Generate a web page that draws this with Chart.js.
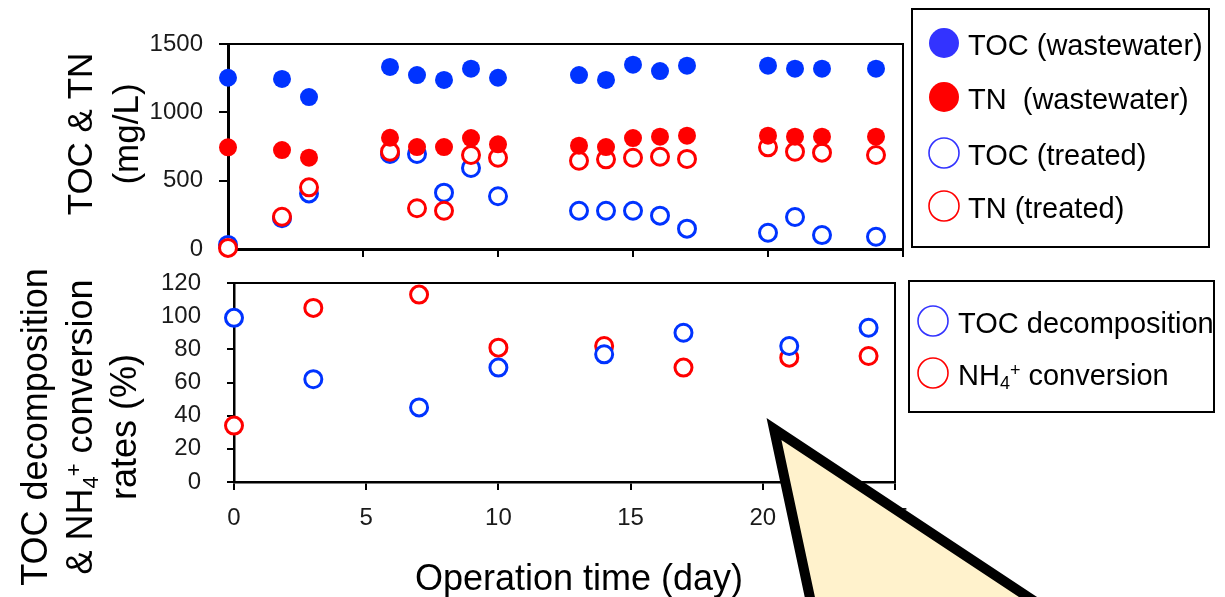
<!DOCTYPE html>
<html lang="en">
<head>
<meta charset="UTF-8">
<title>TOC / TN and conversion rates</title>
<script src="https://cdn.jsdelivr.net/npm/chart.js"></script>
<style>
  body { margin: 0; background: #fff; }
  #wrap { position: relative; width: 1225px; height: 597px; overflow: hidden; }
  #wrap canvas { position: absolute; left: 0; top: 0; }
</style>
</head>
<body>
<div id="wrap">
  <canvas id="topChart" width="1225" height="597"></canvas>
  <canvas id="bottomChart" width="1225" height="597"></canvas>
</div>
<script>
// --- data: top panel (mg/L) ---
const days = [0, 2, 3, 6, 7, 8, 9, 10, 13, 14, 15, 16, 17, 20, 21, 22, 24];
const tocWaste   = [1253, 1244, 1112, 1332, 1273, 1237, 1319, 1253, 1273, 1237, 1349, 1302, 1341, 1341, 1319, 1319, 1319];
const tnWaste    = [744, 724, 668, 814, 746, 746, 812, 766, 756, 746, 812, 822, 829, 829, 822, 822, 822];
const tocTreated = [30, 225, 407, 695, 695, 412, 593, 386, 280, 280, 280, 244, 149, 119, 234, 102, 90];
const tnTreated  = [8, 236, 451, 712, 298, 280, 688, 668, 646, 656, 668, 675, 659, 744, 712, 705, 688];

// --- data: bottom panel (%) ---
const rateDays = [0, 3, 7, 10, 14, 17, 21, 24];
const tocDecomp = [99, 62, 45, 69, 77, 90, 82, 93];
const nh4Conv   = [34, 105, 113, 81, 82, 69, 75, 76];

const FONT = '"Liberation Sans", Arial, sans-serif';
const BLUE = '#0033FF', RED = '#FF0000';
const LEG_BLUE = '#3333FF', LEG_RED = '#FF0000';

function pts(xs, ys) { return xs.map((x, i) => ({ x: x, y: ys[i] })); }

// sub/superscript chars in labels are drawn as small shifted text
const SUB = { '\u2084': '4' }, SUP = { '\u207A': '+' };
function drawRich(ctx, text, x, y, size, align) {
  const runs = [];
  for (const ch of text) {
    let kind = 'n', c = ch;
    if (SUB[ch]) { kind = 'sub'; c = SUB[ch]; }
    else if (SUP[ch]) { kind = 'sup'; c = SUP[ch]; }
    const last = runs[runs.length - 1];
    if (last && last.kind === kind) last.t += c; else runs.push({ kind: kind, t: c });
  }
  const fontFor = k => (k === 'n' ? size : Math.round(size * 0.62)) + 'px ' + FONT;
  let total = 0;
  runs.forEach(r => { ctx.font = fontFor(r.kind); r.w = ctx.measureText(r.t).width; total += r.w; });
  let cx = align === 'center' ? x - total / 2 : x;
  ctx.textAlign = 'left';
  ctx.textBaseline = 'alphabetic';
  runs.forEach(r => {
    ctx.font = fontFor(r.kind);
    const dy = r.kind === 'sub' ? size * 0.17 : (r.kind === 'sup' ? -size * 0.3 : 0);
    ctx.fillText(r.t, cx, y + dy);
    cx += r.w;
  });
}

// top & right border of the plot area
const frame = {
  id: 'frame',
  beforeDatasetsDraw(chart) {
    const a = chart.chartArea, ctx = chart.ctx;
    ctx.save();
    ctx.strokeStyle = '#000';
    ctx.lineWidth = 2;
    ctx.beginPath();
    ctx.moveTo(a.left, a.top);
    ctx.lineTo(a.right, a.top);
    ctx.lineTo(a.right, a.bottom);
    ctx.stroke();
    ctx.restore();
  }
};

function makeTitles(items) {
  return {
    id: 'titles',
    afterDraw(chart) {
      const ctx = chart.ctx;
      ctx.save();
      ctx.fillStyle = '#000';
      items.forEach(it => {
        ctx.save();
        ctx.translate(it.x, it.y);
        if (it.rotate) ctx.rotate(-Math.PI / 2);
        drawRich(ctx, it.text, 0, 0, it.size, 'center');
        ctx.restore();
      });
      ctx.restore();
    }
  };
}

function makeLegend(box) {
  return {
    id: 'boxLegend',
    afterDraw(chart) {
      const ctx = chart.ctx;
      ctx.save();
      ctx.fillStyle = '#fff';
      ctx.fillRect(box.x, box.y, box.w, box.h);
      ctx.strokeStyle = '#000';
      ctx.lineWidth = 2;
      ctx.strokeRect(box.x, box.y, box.w, box.h);
      chart.data.datasets.forEach((ds, i) => {
        const cy = box.rows[i];
        ctx.beginPath();
        ctx.arc(box.markerX, cy, 15, 0, Math.PI * 2);
        if (ds.filled) {
          ctx.fillStyle = ds.legendColor;
          ctx.fill();
        } else {
          ctx.lineWidth = 1.6;
          ctx.strokeStyle = ds.legendColor;
          ctx.stroke();
        }
        ctx.fillStyle = '#000';
        drawRich(ctx, ds.label, box.textX, cy + 11.5, 29, 'left');
      });
      ctx.restore();
    }
  };
}

function makeCallout(poly) {
  return {
    id: 'callout',
    afterDraw(chart) {
      const ctx = chart.ctx;
      ctx.save();
      ctx.beginPath();
      poly.forEach((p, i) => i ? ctx.lineTo(p[0], p[1]) : ctx.moveTo(p[0], p[1]));
      ctx.closePath();
      ctx.fillStyle = '#FFF2CC';
      ctx.fill();
      ctx.lineJoin = 'miter';
      ctx.lineWidth = 10;
      ctx.strokeStyle = '#000';
      ctx.stroke();
      ctx.restore();
    }
  };
}

function tickFont() { return { family: FONT, size: 24 }; }
const plainNum = v => String(v);

// ---------- top panel ----------
new Chart(document.getElementById('topChart'), {
  type: 'scatter',
  data: {
    datasets: [
      { label: 'TOC (wastewater)', data: pts(days, tocWaste), filled: true, legendColor: LEG_BLUE,
        backgroundColor: BLUE, borderColor: BLUE, borderWidth: 0, pointRadius: 9, order: 1 },
      { label: 'TN  (wastewater)', data: pts(days, tnWaste), filled: true, legendColor: LEG_RED,
        backgroundColor: RED, borderColor: RED, borderWidth: 0, pointRadius: 9, order: 2 },
      { label: 'TOC (treated)', data: pts(days, tocTreated), filled: false, legendColor: LEG_BLUE,
        backgroundColor: '#fff', borderColor: BLUE, borderWidth: 3, pointRadius: 8.5, order: 4 },
      { label: 'TN (treated)', data: pts(days, tnTreated), filled: false, legendColor: LEG_RED,
        backgroundColor: '#fff', borderColor: RED, borderWidth: 3, pointRadius: 8.5, order: 3 }
    ].map(d => Object.assign(d, { clip: false }))
  },
  options: {
    responsive: false,
    animation: false,
    events: [],
    layout: { padding: { top: 44, right: 322, bottom: 335, left: 0 } },
    plugins: { legend: { display: false }, tooltip: { enabled: false } },
    scales: {
      x: {
        type: 'linear', min: 0, max: 25,
        ticks: { display: false, stepSize: 5 },
        grid: { drawOnChartArea: false, tickLength: 8, lineWidth: 2, color: '#000' },
        border: { display: true, color: '#000', width: 3 },
        afterFit: s => { s.height = 13; }
      },
      y: {
        min: 0, max: 1500,
        ticks: { stepSize: 500, padding: 16, color: '#1a1a1a', font: tickFont(), callback: plainNum },
        grid: { drawOnChartArea: false, tickLength: 9, lineWidth: 2, color: '#000' },
        border: { display: true, color: '#000', width: 3 },
        afterFit: s => { s.width = 228; }
      }
    }
  },
  plugins: [frame, makeTitles([
    { text: 'TOC & TN', x: 92, y: 134, size: 35, rotate: true },
    { text: '(mg/L)', x: 138, y: 134, size: 35, rotate: true }
  ]), makeLegend({ x: 912, y: 9, w: 297, h: 238, markerX: 944, textX: 968, rows: [43, 97, 153, 206] })]
});

// ---------- bottom panel ----------
new Chart(document.getElementById('bottomChart'), {
  type: 'scatter',
  data: {
    datasets: [
      { label: 'TOC decomposition', data: pts(rateDays, tocDecomp), filled: false, legendColor: LEG_BLUE,
        backgroundColor: '#fff', borderColor: BLUE, borderWidth: 3, pointRadius: 8.5 },
      { label: 'NH\u2084\u207A conversion', data: pts(rateDays, nh4Conv), filled: false, legendColor: LEG_RED,
        backgroundColor: '#fff', borderColor: RED, borderWidth: 3, pointRadius: 8.5 }
    ].map(d => Object.assign(d, { clip: false }))
  },
  options: {
    responsive: false,
    animation: false,
    events: [],
    layout: { padding: { top: 283, right: 330, bottom: 0, left: 0 } },
    plugins: { legend: { display: false }, tooltip: { enabled: false } },
    scales: {
      x: {
        type: 'linear', min: 0, max: 25,
        ticks: { stepSize: 5, padding: 14, color: '#1a1a1a', font: tickFont(), callback: plainNum },
        grid: { drawOnChartArea: false, tickLength: 8, lineWidth: 2, color: '#000' },
        border: { display: true, color: '#000', width: 2.5 },
        afterFit: s => { s.height = 115; }
      },
      y: {
        min: 0, max: 120,
        ticks: { stepSize: 20, padding: 26, color: '#1a1a1a', font: tickFont(), callback: plainNum },
        grid: { drawOnChartArea: false, tickLength: 7, lineWidth: 2, color: '#000' },
        border: { display: true, color: '#000', width: 2.5 },
        afterFit: s => { s.width = 234; }
      }
    }
  },
  plugins: [frame, makeTitles([
    { text: 'TOC decomposition', x: 47, y: 427, size: 36, rotate: true },
    { text: '& NH\u2084\u207A conversion', x: 92, y: 427, size: 36, rotate: true },
    { text: 'rates (%)', x: 136, y: 427, size: 36, rotate: true },
    { text: 'Operation time (day)', x: 579, y: 590, size: 36 }
  ]), makeLegend({ x: 909, y: 281, w: 305, h: 131, markerX: 933, textX: 958, rows: [321, 373] }),
  makeCallout([[774, 429], [819, 640], [1093, 640]])]
});
</script>
</body>
</html>
